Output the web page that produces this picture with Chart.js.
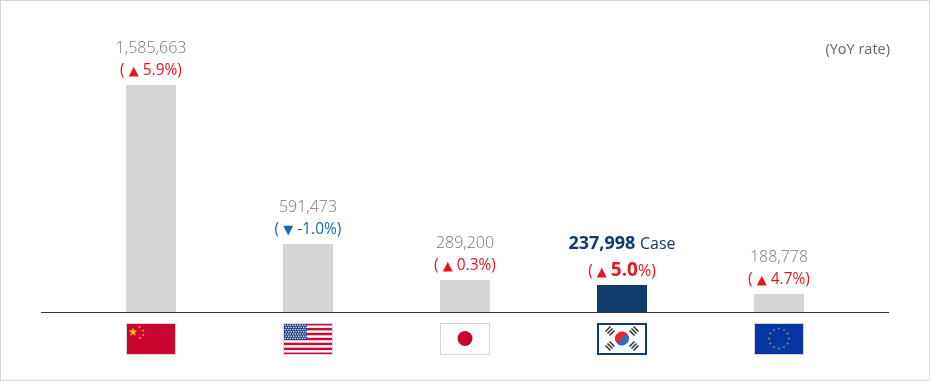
<!DOCTYPE html>
<html>
<head>
<meta charset="utf-8">
<title>YoY rate</title>
<script src="https://cdn.jsdelivr.net/npm/chart.js@4/dist/chart.umd.min.js"></script>
<style>
  html,body{margin:0;padding:0;background:#fff}
  #box{position:relative;width:930px;height:381px;overflow:hidden}
  #box:after{content:"";position:absolute;left:0;top:0;width:928px;height:379px;border:1px solid #d5d5d5;pointer-events:none}
</style>
</head>
<body>
<div id="box"><canvas id="chart" width="930" height="381"></canvas></div>
<script>
// ------ DATA ------
const countries = ["China","USA","Japan","Korea","EU"];
const caseLabels = ["1,585,663","591,473","289,200","237,998","188,778"];
const rates = ["5.9","-1.0","0.3","5.0","4.7"];
// bar heights as drawn in the picture (the original is not to scale with the labels)
const barHeights = [227,68,32,27,18];
const highlight = 3;

const GREY = "#d5d5d5", NAVY = "#0f3a69", RED = "#e8171f", BLUE = "#1b68b3", FONT = '"Open Sans"';

// draws a row of text runs centered on x
function drawRuns(ctx, runs, x, y){
  let w = 0;
  runs.forEach(r=>{ ctx.font = r.font; w += ctx.measureText(r.text).width; });
  let cx = x - w/2;
  ctx.textAlign = "left";
  ctx.textBaseline = "alphabetic";
  runs.forEach(r=>{
    ctx.font = r.font; ctx.fillStyle = r.color;
    ctx.fillText(r.text, cx, y);
    cx += ctx.measureText(r.text).width;
  });
}

function rateRuns(i){
  const up = parseFloat(rates[i]) >= 0;
  const color = up ? RED : BLUE;
  const f = `15.5px ${FONT}`;
  const mark = {text: up ? "▲" : "▼", font:`13px "DejaVu Sans"`, color};
  if(i===highlight) return [
    {text:"( ", font:f, color}, mark, {text:" ", font:f, color},
    {text:rates[i], font:`bold 19px ${FONT}`, color}, {text:"%)", font:`16px ${FONT}`, color}
  ];
  return [{text:"( ", font:f, color}, mark, {text:" "+rates[i]+"%)", font:f, color}];
}

// ------ FLAGS ------
function star(ctx,x,y,r,color){
  ctx.fillStyle = color; ctx.beginPath();
  for(let k=0;k<10;k++){
    const a = -Math.PI/2 + k*Math.PI/5, q = k%2 ? r*0.42 : r;
    ctx.lineTo(x+Math.cos(a)*q, y+Math.sin(a)*q);
  }
  ctx.closePath(); ctx.fill();
}
const flags = {
  China(ctx,x,y){
    ctx.fillStyle="#c8062f"; ctx.fillRect(x,y,50,32);
    star(ctx,x+7,y+9,4.5,"#fcc30b");
    [[13.5,4],[17,7.5],[17.3,12],[14,15]].forEach(p=>star(ctx,x+p[0],y+p[1],1.6,"#f5a623"));
  },
  USA(ctx,x,y){
    ctx.fillStyle="#fff"; ctx.fillRect(x,y,50,32);
    ctx.fillStyle="#cb0b33";
    for(let k=0;k<7;k++) ctx.fillRect(x,y+k*32/13*2,50,32/13);
    ctx.fillStyle="#1b3a7d"; ctx.fillRect(x,y,24,17);
    ctx.fillStyle="#d9e2f0";
    for(let r=0;r<7;r++) for(let c=0;c<9;c++) ctx.fillRect(x+1.5+c*2.5+(r%2),y+1.5+r*2.2,1.4,1.4);
  },
  Japan(ctx,x,y){
    ctx.fillStyle="#fff"; ctx.fillRect(x,y,50,32);
    ctx.fillStyle="#c8062f"; ctx.beginPath(); ctx.arc(x+25,y+15.5,7.5,0,Math.PI*2); ctx.fill();
  },
  Korea(ctx,x,y){
    ctx.fillStyle="#fff"; ctx.fillRect(x,y,50,32);
    const cx=x+25, cy=y+15.5, r=7;
    ctx.fillStyle="#ee2430"; ctx.beginPath(); ctx.arc(cx,cy,r,Math.PI*0.95,Math.PI*1.95); ctx.fill();
    ctx.fillStyle="#1b75bb"; ctx.beginPath(); ctx.arc(cx,cy,r,Math.PI*1.95,Math.PI*0.95); ctx.fill();
    ctx.fillStyle="#ee2430"; ctx.beginPath(); ctx.arc(cx-3.5,cy,3.5,0,Math.PI*2); ctx.fill();
    ctx.fillStyle="#1b75bb"; ctx.beginPath(); ctx.arc(cx+3.5,cy,3.5,0,Math.PI*2); ctx.fill();
    [[-1,-1],[1,-1],[-1,1],[1,1]].forEach(s=>{
      ctx.save();
      ctx.translate(cx+s[0]*12,cy+s[1]*7.5);
      ctx.rotate(s[0]*s[1]>0 ? -Math.PI/4 : Math.PI/4);
      ctx.fillStyle="#333";
      ctx.fillRect(-3.5,-3.6,7,1.6); ctx.fillRect(-3.5,-0.8,7,1.6); ctx.fillRect(-3.5,2,7,1.6);
      ctx.restore();
    });
  },
  EU(ctx,x,y){
    ctx.fillStyle="#0636a3"; ctx.fillRect(x,y,50,32);
    for(let k=0;k<12;k++){
      const a=k*Math.PI/6;
      star(ctx,x+25+Math.cos(a)*10,y+15.5+Math.sin(a)*10,1.3,"#d6ad2c");
    }
  }
};

const overlay = {
  id:"overlay",
  afterDatasetsDraw(chart){
    const {ctx,chartArea:a,scales:{x:sx,y:sy}} = chart;
    ctx.save();
    // baseline
    ctx.strokeStyle="#333"; ctx.lineWidth=1;
    ctx.beginPath(); ctx.moveTo(41,a.bottom+0.5); ctx.lineTo(889,a.bottom+0.5); ctx.stroke();

    countries.forEach((name,i)=>{
      const cx = sx.getPixelForValue(i), top = sy.getPixelForValue(barHeights[i]);
      // value + rate labels
      if(i===highlight){
        drawRuns(ctx,[
          {text:caseLabels[i]+" ",font:`bold 18px ${FONT}`,color:NAVY},
          {text:"Case",font:`16px ${FONT}`,color:NAVY}
        ],cx,top-36);
        drawRuns(ctx,rateRuns(i),cx,top-9);
      }else{
        drawRuns(ctx,[{text:caseLabels[i],font:`300 16px ${FONT}`,color:"#777"}],cx,top-32);
        drawRuns(ctx,rateRuns(i),cx,top-10);
      }
      // flag
      const fx = Math.round(cx-25), fy = a.bottom+11;
      flags[name](ctx,fx,fy);
      if(i===highlight){
        ctx.strokeStyle=NAVY; ctx.lineWidth=2;
        ctx.strokeRect(fx+1,fy+1,48,30);
      }else{
        ctx.strokeStyle=GREY; ctx.lineWidth=1;
        ctx.strokeRect(fx+0.5,fy+0.5,49,31);
      }
    });

    // unit note
    ctx.font=`14.5px ${FONT}`; ctx.fillStyle="#666"; ctx.textAlign="right"; ctx.textBaseline="alphabetic";
    ctx.fillText("(YoY rate)",890,54);
    ctx.restore();
  }
};

new Chart(document.getElementById("chart"),{
  type:"bar",
  data:{labels:countries,datasets:[{
    data:barHeights,
    backgroundColor:countries.map((c,i)=> i===highlight ? NAVY : GREY),
    barThickness:50,
    borderWidth:0,
    inflateAmount:0
  }]},
  options:{
    responsive:false,
    animation:false,
    layout:{padding:{left:72.5,right:72.5,top:85,bottom:69}},
    plugins:{legend:{display:false},tooltip:{enabled:false}},
    scales:{
      x:{display:false},
      y:{display:false,min:0,max:227}
    }
  },
  plugins:[overlay]
});
</script>
</body>
</html>
